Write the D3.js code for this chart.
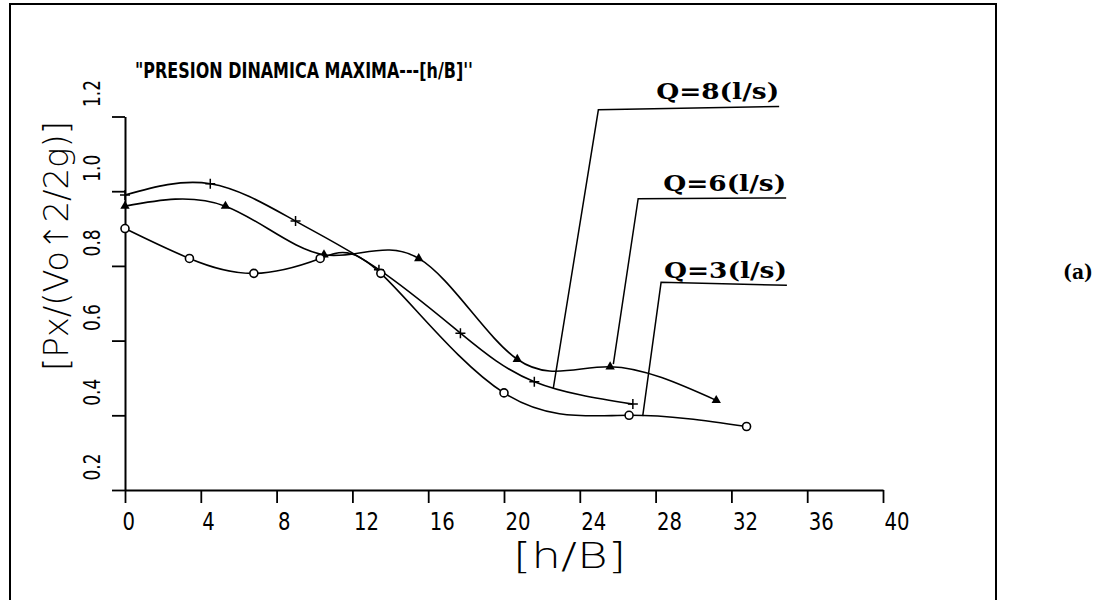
<!DOCTYPE html>
<html>
<head>
<meta charset="utf-8">
<script src="https://cdn.jsdelivr.net/npm/d3@7/dist/d3.min.js"></script>
<style>
  html, body { margin: 0; padding: 0; background: #fff; }
  svg { display: block; }
</style>
</head>
<body>
<svg id="chart" width="1100" height="600"></svg>
<script>
// ---- data -------------------------------------------------------------
const xTicks = [0, 4, 8, 12, 16, 20, 24, 28, 32, 36, 40];
const yTicks = [0.2, 0.4, 0.6, 0.8, 1.0, 1.2];

// h/B values and Px/(Vo^2/2g) for each discharge
const q8X = [0, 4.5, 9.0, 13.4, 17.7, 21.6, 26.8];
const q8Y = [0.99, 1.02, 0.92, 0.79, 0.62, 0.49, 0.43];

const q6X = [0, 5.3, 10.5, 15.5, 20.7, 25.6, 31.2];
const q6Y = [0.96, 0.96, 0.83, 0.82, 0.55, 0.53, 0.44];

const q3X = [0, 3.4, 6.8, 10.3, 13.5, 20.0, 26.6, 32.8];
const q3Y = [0.90, 0.82, 0.78, 0.82, 0.78, 0.46, 0.40, 0.37];

const seriesNames = ["Q=8(l/s)", "Q=6(l/s)", "Q=3(l/s)"];

// callout leaders in data units: [point on curve, elbow, end of underline]
const calloutPoints = [
  [[22.6, 0.472], [24.98, 1.218], [34.52, 1.227]],
  [[25.77, 0.537], [27.08, 0.980], [34.89, 0.982]],
  [[27.32, 0.398], [28.29, 0.756], [34.93, 0.748]]
];

const titleText = "\"PRESION DINAMICA MAXIMA---[h/B]''";
const xTitle = "[h/B]";
const yTitle = "[Px/(Vo\u21912/2g)]";
const panelTag = "(a)";

// ---- layout -----------------------------------------------------------
const svg = d3.select("#chart");
const x = d3.scaleLinear().domain([0, 40]).range([125, 883]);
const y = d3.scaleLinear().domain([0.2, 1.2]).range([490, 116.5]);

const plotFont = "'DejaVu Sans', 'Liberation Sans', sans-serif";
const serifFont = "'DejaVu Serif', 'Liberation Serif', serif";

// outer frame (open at the bottom)
svg.append("path")
  .attr("d", "M10,600 V4 H996 V600")
  .attr("fill", "none").attr("stroke", "#000").attr("stroke-width", 2);

// title
svg.append("text")
  .attr("x", 135).attr("y", 78)
  .attr("font-family", plotFont).attr("font-weight", "bold")
  .attr("font-size", 22)
  .attr("textLength", 338).attr("lengthAdjust", "spacingAndGlyphs")
  .text(titleText);

// x axis
const gx = svg.append("g")
  .attr("transform", `translate(0,${y(0.2)})`)
  .call(d3.axisBottom(x).tickValues(xTicks).tickSize(13).tickSizeOuter(0)
    .tickFormat(d3.format("d")));
gx.select(".domain").attr("stroke-width", 2);
gx.selectAll(".tick line").attr("stroke-width", 1.8);
gx.selectAll(".tick text")
  .attr("font-family", plotFont).attr("font-size", 24)
  .attr("fill", "#000")
  .attr("text-anchor", "start")
  .attr("x", d => (d === 0 ? -3 : 1)).attr("y", 40).attr("dy", null)
  .each(function () {
    const t = d3.select(this);
    t.attr("textLength", t.text().length * 12.5).attr("lengthAdjust", "spacingAndGlyphs");
  });

// y axis
const gy = svg.append("g")
  .attr("transform", `translate(${x(0)},0)`)
  .call(d3.axisLeft(y).tickValues(yTicks).tickSize(13).tickSizeOuter(0)
    .tickFormat(d3.format(".1f")));
gy.select(".domain").attr("stroke-width", 2);
gy.selectAll(".tick line").attr("stroke-width", 1.8);
gy.selectAll(".tick text")
  .attr("font-family", plotFont).attr("font-size", 23)
  .attr("fill", "#000")
  .attr("text-anchor", "start")
  .attr("x", 0).attr("y", 0).attr("dy", null)
  .attr("transform", "translate(-25,-10) rotate(-90)")
  .attr("textLength", 27).attr("lengthAdjust", "spacingAndGlyphs");

// axis titles
svg.append("text")
  .attr("x", 513).attr("y", 568)
  .attr("font-family", plotFont).attr("font-weight", 200)
  .attr("font-size", 36)
  .attr("textLength", 113).attr("lengthAdjust", "spacingAndGlyphs")
  .text(xTitle);

svg.append("text")
  .attr("transform", "translate(68,371) rotate(-90)")
  .attr("font-family", plotFont).attr("font-weight", 200)
  .attr("font-size", 34)
  .attr("textLength", 250).attr("lengthAdjust", "spacingAndGlyphs")
  .text(yTitle);

// ---- curves -----------------------------------------------------------
const series = [
  { name: seriesNames[0], xs: q8X, ys: q8Y, marker: "plus" },
  { name: seriesNames[1], xs: q6X, ys: q6Y, marker: "triangle" },
  { name: seriesNames[2], xs: q3X, ys: q3Y, marker: "circle" }
];

const line = d3.line()
  .x(d => x(d[0])).y(d => y(d[1]))
  .curve(d3.curveNatural);

const tri = d3.symbol().type(d3.symbolTriangle).size(38);

series.forEach(s => {
  const pts = s.xs.map((v, i) => [v, s.ys[i]]);
  svg.append("path")
    .attr("d", line(pts))
    .attr("fill", "none").attr("stroke", "#000").attr("stroke-width", 1.6);

  const g = svg.append("g");
  pts.forEach(p => {
    const cx = x(p[0]), cy = y(p[1]);
    if (s.marker === "circle") {
      g.append("circle").attr("cx", cx).attr("cy", cy).attr("r", 4)
        .attr("fill", "#fff").attr("stroke", "#000").attr("stroke-width", 1.6);
    } else if (s.marker === "triangle") {
      g.append("path").attr("d", tri())
        .attr("transform", `translate(${cx},${cy})`).attr("fill", "#000");
    } else {
      g.append("path")
        .attr("d", `M${cx - 5},${cy} H${cx + 5} M${cx},${cy - 5} V${cy + 5}`)
        .attr("stroke", "#000").attr("stroke-width", 1.5);
    }
  });
});

// ---- callout labels ---------------------------------------------------
calloutPoints.forEach((c, i) => {
  svg.append("path")
    .attr("d", d3.line().x(d => x(d[0])).y(d => y(d[1]))(c))
    .attr("fill", "none").attr("stroke", "#000").attr("stroke-width", 1.5);
  const end = c[2];
  svg.append("text")
    .attr("x", x(end[0])).attr("y", y(end[1]) - 7)
    .attr("text-anchor", "end")
    .attr("font-family", serifFont).attr("font-weight", "bold")
    .attr("font-size", 23)
    .attr("textLength", 123).attr("lengthAdjust", "spacingAndGlyphs")
    .text(seriesNames[i]);
});

// panel tag
svg.append("text")
  .attr("x", 1063).attr("y", 279)
  .attr("font-family", serifFont).attr("font-weight", "bold")
  .attr("font-size", 20)
  .attr("textLength", 30).attr("lengthAdjust", "spacingAndGlyphs")
  .text(panelTag);
</script>
</body>
</html>
